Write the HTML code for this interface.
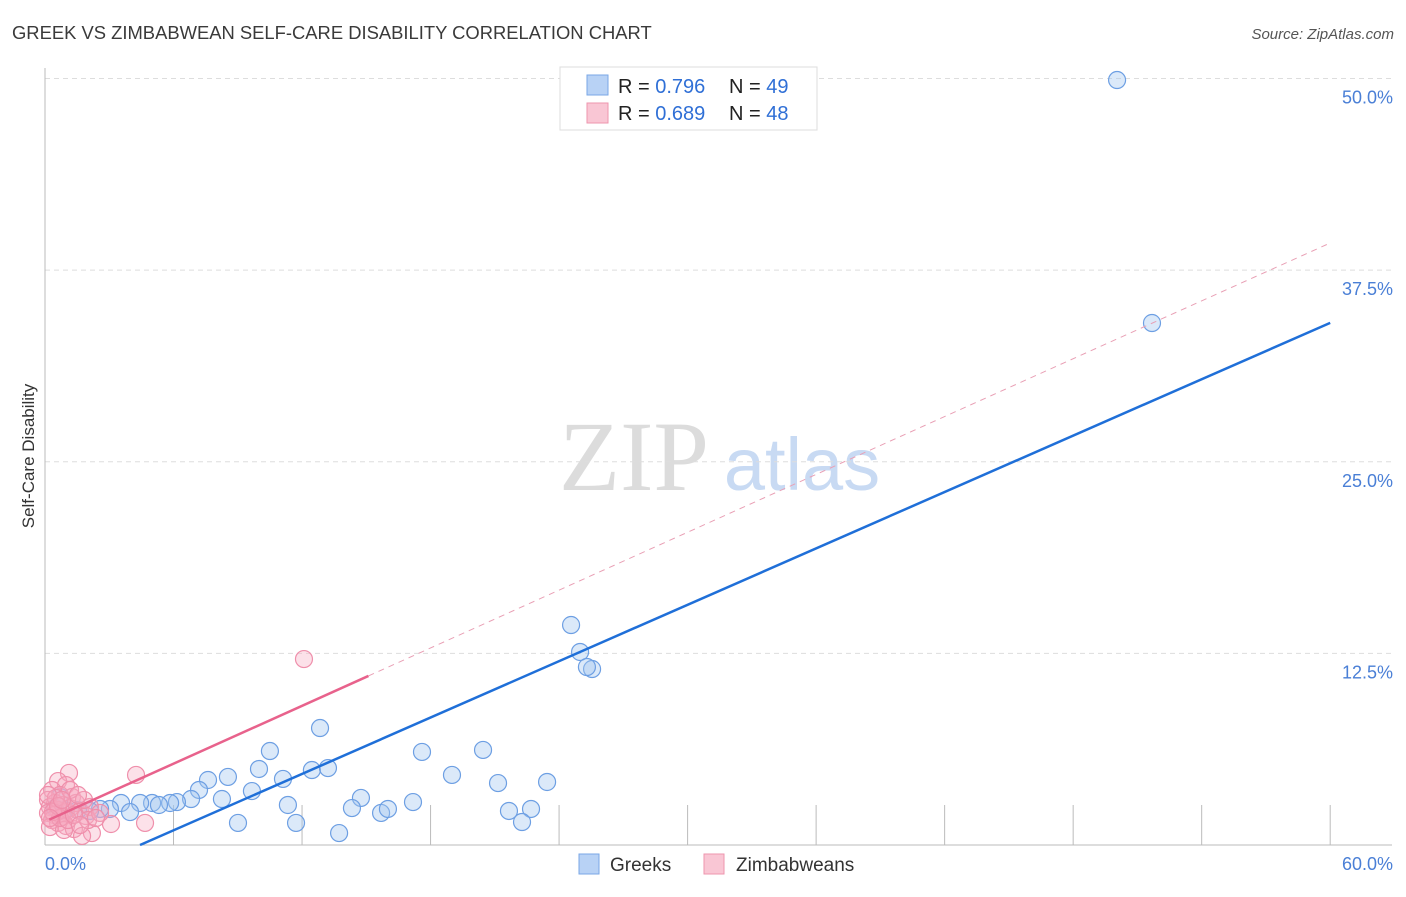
<!DOCTYPE html>
<html><head><meta charset="utf-8"><style>
body{margin:0;background:#fff;font-family:"Liberation Sans",sans-serif;}
svg text{font-family:"Liberation Sans",sans-serif;}
</style></head><body>
<svg id="chart" width="1406" height="892">
<text x="12" y="39" font-size="18.4" fill="#3a3a3a">GREEK VS ZIMBABWEAN SELF-CARE DISABILITY CORRELATION CHART</text>
<text x="1394" y="39" font-size="15" fill="#555" text-anchor="end" font-style="italic">Source: ZipAtlas.com</text>
<text x="34" y="456" font-size="17" fill="#333" text-anchor="middle" transform="rotate(-90 34 456)">Self-Care Disability</text>
<g>
<text x="634" y="490" font-size="100" fill="#dcdcdc" text-anchor="middle" style="font-family:'Liberation Serif',serif">ZIP</text>
<text x="802" y="490" font-size="74" fill="#c8daf3" text-anchor="middle">atlas</text>
</g>
<g id="grid"></g><g id="marks"></g>
<g>
<rect x="560" y="67" width="257" height="63" fill="#fff" stroke="#ddd"/>
<rect x="587" y="75" width="21" height="20" fill="#b8d2f5" stroke="#7aa7e6"/>
<rect x="587" y="103" width="21" height="20" fill="#f9c6d4" stroke="#ee95ae"/>
<text x="618" y="93" font-size="20" fill="#222">R = <tspan fill="#2f6fd6">0.796</tspan></text>
<text x="729" y="93" font-size="20" fill="#222">N = <tspan fill="#2f6fd6">49</tspan></text>
<text x="618" y="120" font-size="20" fill="#222">R = <tspan fill="#2f6fd6">0.689</tspan></text>
<text x="729" y="120" font-size="20" fill="#222">N = <tspan fill="#2f6fd6">48</tspan></text>
</g>
<g>
<rect x="579" y="854" width="20" height="20" fill="#b8d2f5" stroke="#7aa7e6"/>
<text x="610" y="871" font-size="19" fill="#333">Greeks</text>
<rect x="704" y="854" width="20" height="20" fill="#f9c6d4" stroke="#ee95ae"/>
<text x="736" y="871" font-size="19" fill="#333">Zimbabweans</text>
</g>
</svg>
<script>
const yTicks=[12.5,25,37.5,50];
const yTickLabels=["12.5%","25.0%","37.5%","50.0%"];
const xTicks=[6,12,18,24,30,36,42,48,54,60];
const greekX=[50.05,51.68,24.56,24.98,25.54,25.3,12.84,10.5,17.6,20.45,19,21.15,23.44,7.61,8.54,9.99,11.11,12.46,13.21,7.19,9.66,8.26,6.82,6.16,5.84,5,5.32,4.44,3.55,3.97,3.03,2.57,2.1,1.54,0.93,0.47,11.34,14.75,17.18,14.33,15.69,16.01,21.66,22.69,9.01,11.72,13.73,22.27,0.7];
const greekY=[49.9,34.05,14.35,12.59,11.48,11.61,7.63,6.13,6.07,6.2,4.57,4.04,4.11,4.24,4.44,4.96,4.31,4.89,5.02,3.59,3.52,3,3,2.8,2.74,2.74,2.61,2.74,2.74,2.15,2.35,2.35,2.22,2.28,2.28,2.41,2.61,3.07,2.8,2.41,2.09,2.35,2.22,2.35,1.44,1.44,0.78,1.5,3.13];
const zimX=[12.09,4.25,1.12,0.61,0.98,0.33,0.7,1.26,0.14,0.47,0.84,0.23,0.61,0.98,0.14,0.42,0.79,1.17,1.45,1.63,1.91,2.1,1.82,0.33,0.61,0.98,1.35,0.23,2.19,3.08,4.67,1.73,2.01,2.57,0.89,0.51,1.17,1.54,0.14,0.7,1.07,0.37,0.61,0.79,1.35,1.63,2.38,0.23];
const zimY=[12.13,4.57,4.7,4.17,3.91,3.59,3.26,3.13,2.94,2.74,2.61,2.48,2.28,2.15,2.09,1.96,1.83,2.41,2.74,2.22,1.89,2.48,2.94,1.63,1.44,1.24,1.04,1.17,0.78,1.37,1.44,0.59,1.63,2.09,0.98,3.07,3.59,3.26,3.26,1.76,1.63,2.15,2.54,2.94,1.96,1.3,1.76,1.76];
const greekFit=[-2.72,0.613];
const zimFit=[1.53,0.629];
const sx=v=>45+v*21.42, sy=v=>845-v*15.33;
const NS="http://www.w3.org/2000/svg";
const grid=document.getElementById('grid'), marks=document.getElementById('marks');
function mk(tag,attrs,parent){const e=document.createElementNS(NS,tag);for(const k in attrs)e.setAttribute(k,attrs[k]);parent.appendChild(e);return e;}
yTicks.forEach((t,i)=>{
 const l=mk('line',{x1:45,x2:1392,y1:sy(t),y2:sy(t),stroke:'#ddd','stroke-dasharray':'5,4'},grid);
 
 
 const tx=mk('text',{x:1393,y:sy(t)+25,'font-size':18,fill:'#4a7fd6','text-anchor':'end'},grid);
 tx.textContent=yTickLabels[i];
 
 
});
const ax=mk('line',{x1:45,x2:45,y1:68,y2:845,stroke:'#bbb'},grid);


const bx=mk('line',{x1:45,x2:1392,y1:845,y2:845,stroke:'#bbb'},grid);


xTicks.forEach(t=>{
 const l=mk('line',{x1:sx(t),x2:sx(t),y1:805,y2:845,stroke:'#bbb'},grid);
 
 
});
const xl0=mk('text',{x:45,y:870,'font-size':18,fill:'#4a7fd6'},grid);xl0.textContent='0.0%';


const xl1=mk('text',{x:1393,y:870,'font-size':18,fill:'#4a7fd6','text-anchor':'end'},grid);xl1.textContent='60.0%';


greekX.forEach((x,i)=>{
 const c=mk('circle',{cx:sx(x),cy:sy(greekY[i]),r:8.5,fill:'rgba(160,196,240,0.38)',stroke:'#6d9fe3','stroke-width':1.2},marks);
 
 
});
zimX.forEach((x,i)=>{
 const c=mk('circle',{cx:sx(x),cy:sy(zimY[i]),r:8.5,fill:'rgba(247,170,192,0.35)',stroke:'#ef8fab','stroke-width':1.2},marks);
 
 
});
const x0=-greekFit[0]/greekFit[1];
const gl=mk('line',{x1:sx(x0),y1:sy(0),x2:sx(60),y2:sy(greekFit[0]+greekFit[1]*60),stroke:'#1f6fd8','stroke-width':2.5},marks);


const zd=mk('line',{x1:sx(15.1),y1:sy(zimFit[0]+zimFit[1]*15.1),x2:sx(60),y2:sy(zimFit[0]+zimFit[1]*60),stroke:'#e9a0b5','stroke-width':1,'stroke-dasharray':'6,5'},marks);


const zl=mk('line',{x1:sx(0.2),y1:sy(zimFit[0]+zimFit[1]*0.2),x2:sx(15.1),y2:sy(zimFit[0]+zimFit[1]*15.1),stroke:'#e8628c','stroke-width':2.5},marks);


</script>
</body></html>
